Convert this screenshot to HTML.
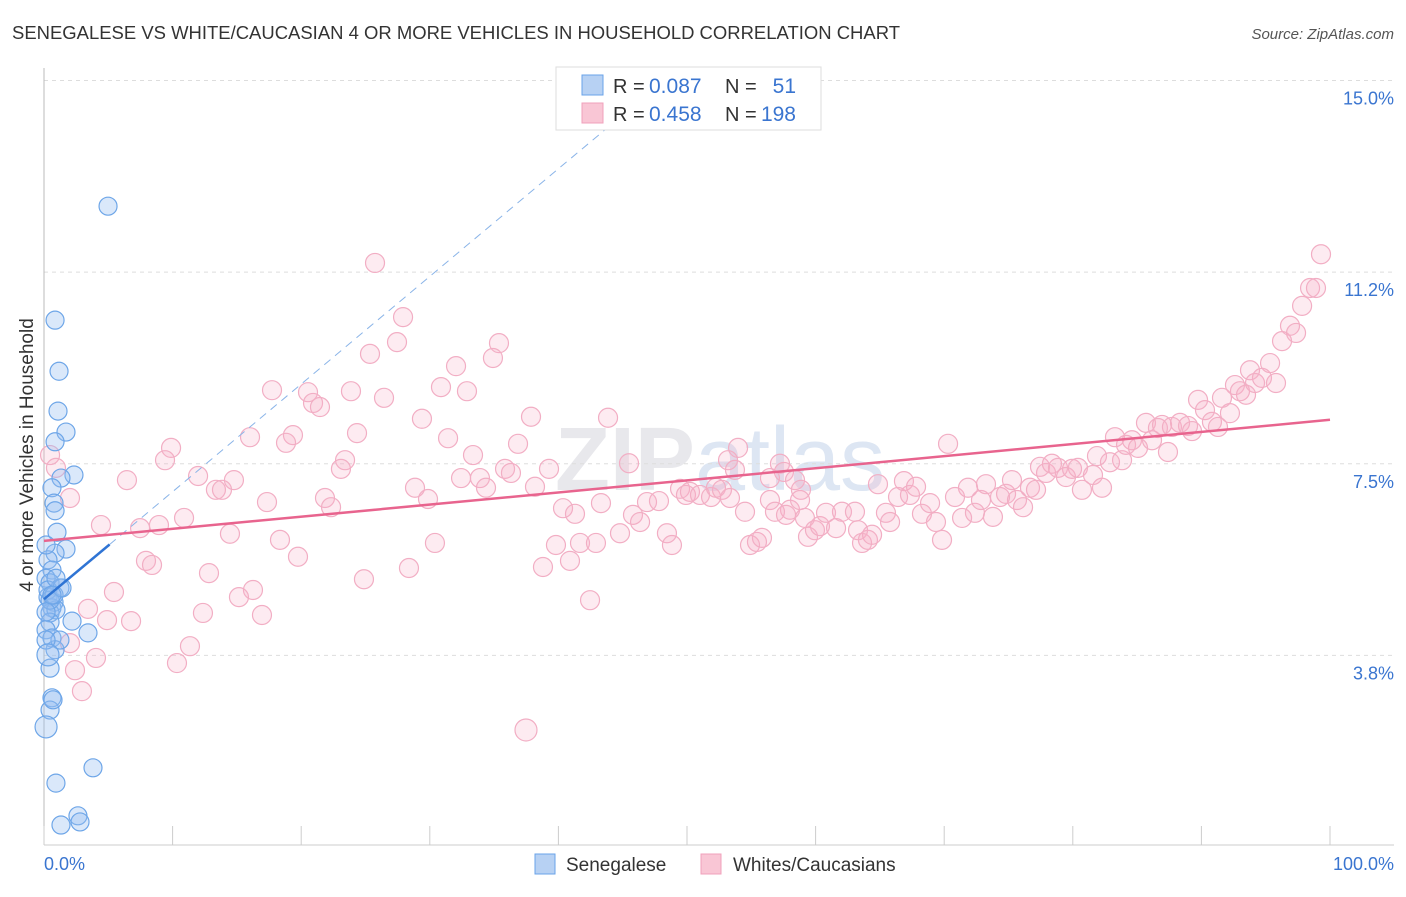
<!DOCTYPE html>
<html><head><meta charset="utf-8"><style>
body{margin:0;background:#fff;font-family:"Liberation Sans",sans-serif}
svg text{font-family:"Liberation Sans",sans-serif}
</style></head><body>
<svg id="chart" width="1406" height="892" xmlns="http://www.w3.org/2000/svg">
<text x="12" y="39" font-size="18" fill="#333" textLength="888" lengthAdjust="spacingAndGlyphs">SENEGALESE VS WHITE/CAUCASIAN 4 OR MORE VEHICLES IN HOUSEHOLD CORRELATION CHART</text>
<text x="1394" y="39" font-size="15" fill="#555" text-anchor="end" font-style="italic">Source: ZipAtlas.com</text>
<text x="720" y="490" font-size="90" fill="#e8e8ec" text-anchor="middle" font-weight="bold">ZIP<tspan fill="#dde6f3" font-weight="normal">atlas</tspan></text>
<g id="grid"></g>
<g id="axes"></g>
<g id="pink"></g>
<g id="blue"></g>
<g id="lines"></g>
<text x="-455" y="33" transform="rotate(-90)" font-size="19" fill="#333" text-anchor="middle">4 or more Vehicles in Household</text>
<text x="44" y="870" font-size="18" fill="#3a75d0">0.0%</text>
<text x="1394" y="870" font-size="18" fill="#3a75d0" text-anchor="end">100.0%</text>
<g>
<rect x="556" y="67" width="265" height="63" fill="#fff" stroke="#ddd"/>
<rect x="582" y="75" width="21" height="20" fill="#b7d1f3" stroke="#6aa3e8"/>
<rect x="582" y="103" width="21" height="20" fill="#f9c6d5" stroke="#f0a0bb"/>
<text x="613" y="93" font-size="20" fill="#333">R =</text>
<text x="649" y="93" font-size="21" fill="#3a75d0">0.087</text>
<text x="725" y="93" font-size="20" fill="#333">N =</text>
<text x="796" y="93" font-size="21" fill="#3a75d0" text-anchor="end">51</text>
<text x="613" y="121" font-size="20" fill="#333">R =</text>
<text x="649" y="121" font-size="21" fill="#3a75d0">0.458</text>
<text x="725" y="121" font-size="20" fill="#333">N =</text>
<text x="796" y="121" font-size="21" fill="#3a75d0" text-anchor="end">198</text>
</g>
<g>
<rect x="535" y="854" width="20" height="20" fill="#b7d1f3" stroke="#6aa3e8"/>
<text x="566" y="871" font-size="19" fill="#333">Senegalese</text>
<rect x="701" y="854" width="20" height="20" fill="#f9c6d5" stroke="#f0a0bb"/>
<text x="733" y="871" font-size="19" fill="#333">Whites/Caucasians</text>
</g>
</svg>
<script>
const yTicks=[15,11.25,7.5,3.75];
const yTickLabels=["15.0%","11.2%","7.5%","3.8%"];
const xTicks=[0,10,20,30,40,50,60,70,80,90,100];
const blueX=[4.98,0.86,1.17,1.09,1.71,0.86,2.33,1.32,0.62,0.78,0.86,1.01,1.71,0.86,0.31,0.62,0.16,0.47,1.24,0.31,0.78,0.62,0.47,0.93,2.18,3.42,0.47,0.16,0.62,0.86,0.47,0.62,0.47,0.16,0.93,3.81,1.32,2.64,2.80,0.16,0.31,0.47,0.78,0.16,1.24,0.16,1.40,0.93,0.62,0.31,0.70];
const blueY=[12.54,10.31,9.31,8.53,8.12,7.93,7.28,7.22,7.03,6.73,6.58,6.16,5.83,5.75,5.62,5.42,5.26,5.17,5.07,4.89,4.79,4.68,4.58,4.64,4.42,4.19,4.40,4.25,4.09,3.86,3.50,2.92,2.68,2.35,1.25,1.55,0.43,0.61,0.49,5.91,5.03,4.83,4.93,4.60,4.05,4.05,5.07,5.26,4.93,3.76,2.88];
const pinkX=[25.74,27.92,27.45,25.35,35.38,34.91,32.04,30.87,32.89,23.87,26.44,17.73,20.53,20.92,21.46,29.39,37.87,43.86,31.42,24.34,19.36,16.02,18.82,9.88,9.41,53.97,36.86,33.36,45.49,23.41,23.09,11.98,14.77,6.45,13.37,13.84,32.43,35.85,36.31,39.27,33.90,34.37,38.18,28.85,29.86,21.85,17.34,22.32,10.89,8.94,4.43,7.47,14.46,18.35,19.75,30.40,7.93,8.40,12.83,16.25,15.16,24.88,28.38,39.81,38.80,40.90,41.68,42.92,42.46,5.44,3.42,4.90,6.77,12.36,16.95,2.02,4.04,11.35,10.34,2.41,2.95,37.48,0.47,0.93,2.02,40.36,41.29,43.31,44.79,45.80,46.35,46.89,47.82,48.44,48.83,49.46,49.92,50.23,51.01,51.87,52.25,52.72,53.19,53.73,53.34,54.51,54.90,55.44,55.83,56.45,57.23,57.54,58.40,58.86,58.01,58.79,56.45,56.84,57.70,59.17,59.41,59.95,60.34,60.81,61.59,62.05,63.06,63.30,63.61,64.07,64.39,64.85,65.47,65.79,66.41,66.87,67.34,67.81,68.27,68.90,69.36,69.83,70.30,70.84,71.39,71.85,72.39,72.86,73.25,73.79,74.34,74.81,75.27,75.66,76.13,76.67,77.14,77.45,77.92,78.38,78.85,79.47,79.94,80.40,80.71,81.57,81.88,82.27,82.89,83.28,83.83,84.14,84.60,85.07,85.69,86.16,86.62,86.94,87.40,87.71,88.34,88.96,89.27,89.74,90.28,90.82,91.29,91.60,92.22,92.61,93.00,93.47,93.78,94.17,94.71,95.34,95.80,96.27,96.89,97.36,97.83,98.45,98.91,99.30];
const pinkY=[11.43,10.37,9.88,9.65,9.86,9.57,9.41,9.00,8.92,8.92,8.79,8.94,8.90,8.69,8.61,8.38,8.42,8.40,8.00,8.10,8.06,8.02,7.91,7.81,7.57,7.81,7.89,7.67,7.51,7.57,7.40,7.26,7.18,7.18,6.99,6.99,7.22,7.40,7.32,7.40,7.22,7.03,7.05,7.03,6.81,6.83,6.75,6.65,6.44,6.30,6.30,6.24,6.13,6.01,5.68,5.95,5.60,5.52,5.36,5.03,4.89,5.24,5.46,5.91,5.48,5.60,5.95,5.95,4.83,4.99,4.66,4.44,4.42,4.58,4.54,3.99,3.70,3.93,3.60,3.46,3.05,2.29,7.67,7.42,6.83,6.63,6.52,6.73,6.14,6.50,6.36,6.75,6.77,6.14,5.91,7.01,6.89,6.95,6.89,6.85,7.03,6.99,7.57,7.38,6.83,6.56,5.91,5.97,6.05,7.22,7.50,7.34,7.18,6.99,6.60,6.79,6.79,6.56,6.50,6.44,6.07,6.20,6.28,6.54,6.24,6.56,6.56,6.20,5.95,6.01,6.11,7.10,6.54,6.36,6.85,7.16,6.89,7.05,6.52,6.73,6.36,6.01,7.89,6.85,6.44,7.03,6.54,6.79,7.10,6.46,6.85,6.91,7.18,6.79,6.65,7.03,6.99,7.44,7.32,7.50,7.42,7.24,7.40,7.42,6.99,7.28,7.65,7.03,7.53,8.02,7.57,7.87,7.96,7.81,8.30,7.96,8.20,8.26,7.73,8.22,8.30,8.24,8.14,8.75,8.55,8.32,8.22,8.79,8.49,9.04,8.92,8.85,9.33,9.08,9.18,9.47,9.08,9.90,10.20,10.06,10.59,10.94,10.94,11.60];
const blueTrend=[0,4.85,5.1,5.92,46.3,14.6];
const pinkTrend=[0,5.99,100,8.36];
const NS="http://www.w3.org/2000/svg";
function X(v){return 44+v*12.86;}
function Y(v){return 847-v*51.1;}
function mk(tag,attrs,parent){const e=document.createElementNS(NS,tag);for(const k in attrs)e.setAttribute(k,attrs[k]);document.getElementById(parent).appendChild(e);return e;}
yTicks.forEach((t,i)=>{
 const l=mk('line',{x1:44,x2:1394,y1:Y(t),y2:Y(t),stroke:'#ddd','stroke-dasharray':'4,4'},'grid');
 
 
 const tx=mk('text',{x:1394,y:Y(t)+24,'font-size':18,fill:'#3a75d0','text-anchor':'end'},'grid');
 tx.textContent=yTickLabels[i];
 
 
});
const ax=mk('line',{x1:44,x2:44,y1:68,y2:845,stroke:'#bbb'},'axes');


const bx=mk('line',{x1:44,x2:1394,y1:845,y2:845,stroke:'#ccc'},'axes');


xTicks.forEach(t=>{
 const l=mk('line',{x1:X(t),x2:X(t),y1:826,y2:845,stroke:'#ccc'},'axes');
 
 
});
pinkX.forEach((v,i)=>{
 const c=mk('circle',{cx:X(v),cy:Y(pinkY[i]),r:i==81?11:9.5,fill:'rgba(246,175,200,0.25)',stroke:'#f2aec4','stroke-width':1.2},'pink');
 
 
});
blueX.forEach((v,i)=>{
 const c=mk('circle',{cx:X(v),cy:Y(blueY[i]),r:(i==33||i==49)?11:9,fill:'rgba(150,190,240,0.35)',stroke:'#6ea6e8','stroke-width':1.2},'blue');
 
 
});
const bd=mk('line',{x1:X(blueTrend[2]),y1:Y(blueTrend[3]),x2:X(blueTrend[4]),y2:Y(blueTrend[5]),stroke:'#8ab4e8','stroke-width':1,'stroke-dasharray':'8,6'},'lines');


const bs=mk('line',{x1:X(blueTrend[0]),y1:Y(blueTrend[1]),x2:X(blueTrend[2]),y2:Y(blueTrend[3]),stroke:'#2f74d4','stroke-width':2.5},'lines');


const pt=mk('line',{x1:X(pinkTrend[0]),y1:Y(pinkTrend[1]),x2:X(pinkTrend[2]),y2:Y(pinkTrend[3]),stroke:'#e8648e','stroke-width':2.5},'lines');


</script>
</body></html>
